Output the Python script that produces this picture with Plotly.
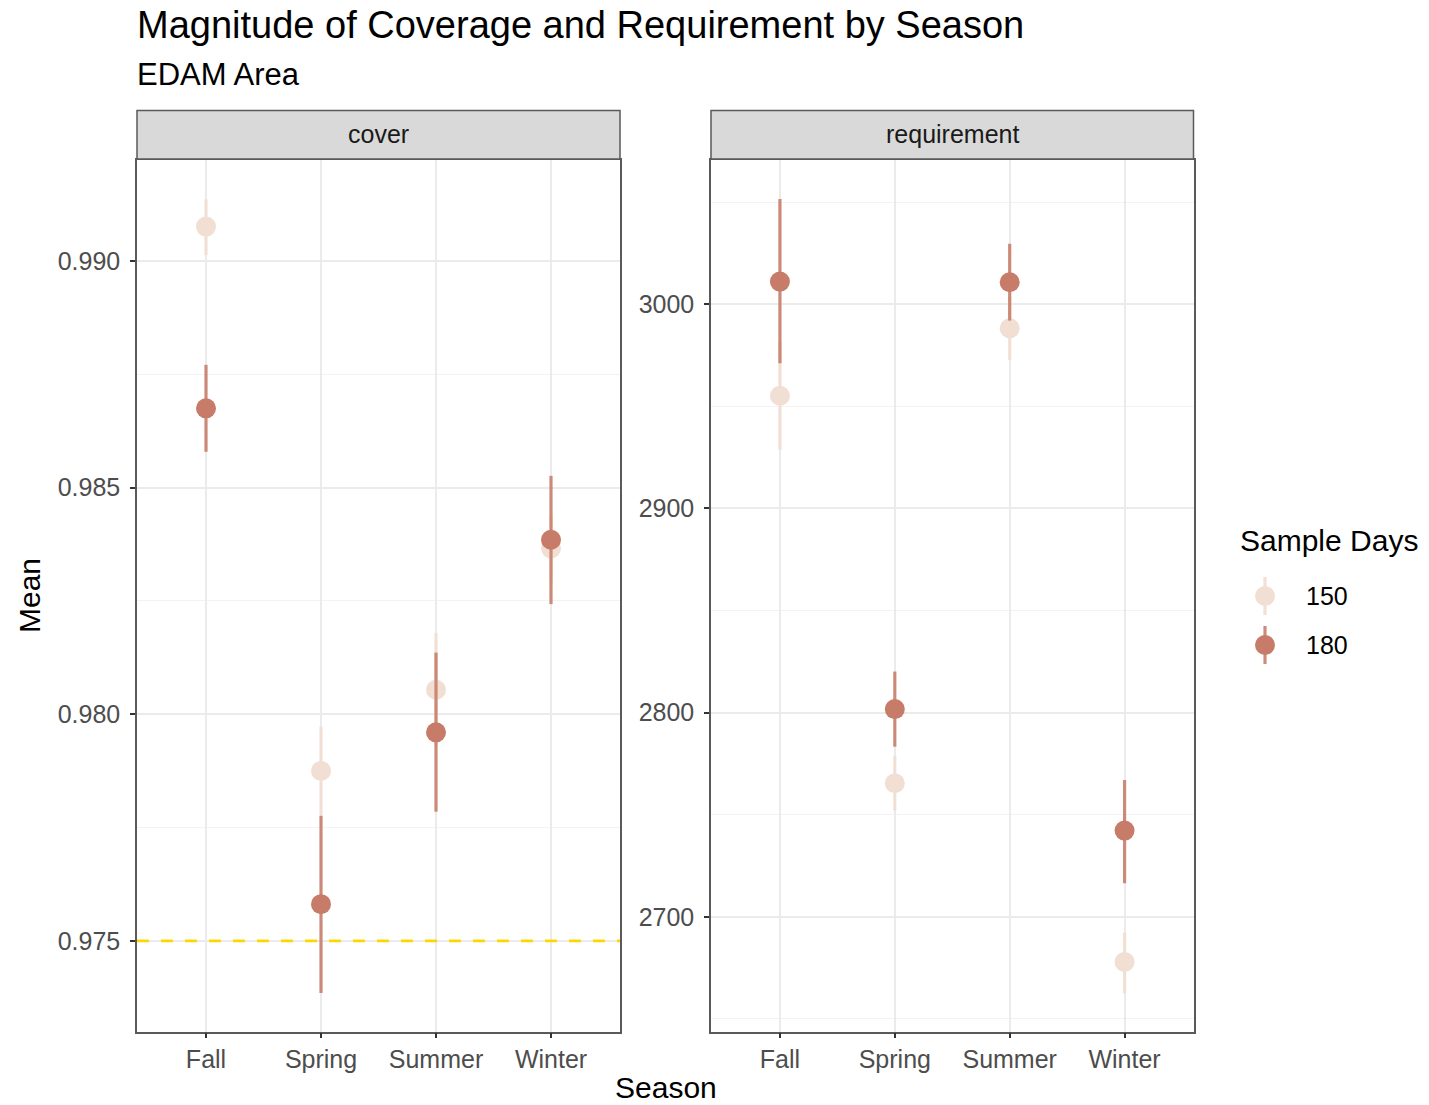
import plotly.graph_objects as go

W, H = 1429, 1105

seasons = ["Fall", "Spring", "Summer", "Winter"]
sample_days = ["150", "180"]

cover_150_mean = [0.99076, 0.97875, 0.98054, 0.98366]
cover_150_lo = [0.99013, 0.97777, 0.97929, 0.98290]
cover_150_hi = [0.99136, 0.97973, 0.98179, 0.98440]
cover_180_mean = [0.98675, 0.97581, 0.97960, 0.98385]
cover_180_lo = [0.98579, 0.97385, 0.97785, 0.98243]
cover_180_hi = [0.98771, 0.97776, 0.98136, 0.98526]

req_150_mean = [2955.2, 2765.4, 2988.2, 2677.9]
req_150_lo = [2928.6, 2752.0, 2972.7, 2662.5]
req_150_hi = [2981.8, 2778.8, 3003.7, 2692.3]
req_180_mean = [3011.1, 2801.7, 3010.8, 2742.2]
req_180_lo = [2971.1, 2783.3, 2992.0, 2716.4]
req_180_hi = [3051.5, 2820.1, 3029.6, 2767.0]

cover_threshold = 0.975
facet_labels = ["cover", "requirement"]

FONT = "Liberation Sans"
col_pt = {"150": "#F2DFD3", "180": "#C67C68"}
col_bar = {"150": "rgba(242,222,210,0.9)", "180": "rgba(198,124,104,0.88)"}


def px(x):
    return x / W


def py(y):
    return 1 - y / H


# panel pixel boxes
L1, R1 = 137, 620
L2, R2 = 711, 1193.5
TOP, BOT = 159.5, 1031.5

fig = go.Figure()

series = [
    ("150", "x", "y", cover_150_mean, cover_150_lo, cover_150_hi),
    ("180", "x", "y", cover_180_mean, cover_180_lo, cover_180_hi),
    ("150", "x2", "y2", req_150_mean, req_150_lo, req_150_hi),
    ("180", "x2", "y2", req_180_mean, req_180_lo, req_180_hi),
]
for sd, xa, ya, m, lo, hi in series:
    fig.add_trace(go.Scatter(
        x=seasons, y=m, xaxis=xa, yaxis=ya, mode="markers",
        marker=dict(size=20, color=col_pt[sd], line=dict(width=0)),
        error_y=dict(type="data", symmetric=False,
                     array=[h - v for h, v in zip(hi, m)],
                     arrayminus=[v - l for v, l in zip(m, lo)],
                     color=col_bar[sd], thickness=3.2, width=0),
        showlegend=False, name=sd, cliponaxis=False,
    ))

axis_common = dict(
    showline=True, mirror=True, linecolor="#5A5A5A", linewidth=1.5,
    ticks="outside", ticklen=5, tickwidth=1.5, tickcolor="#333333",
    tickfont=dict(family=FONT, size=25, color="#4D4D4D"),
    showgrid=True, gridcolor="#EBEBEB", gridwidth=1.5, zeroline=False,
)

xcommon = dict(axis_common, type="category", categoryorder="array",
               categoryarray=seasons, range=[-0.6, 3.6])

fig.update_layout(
    width=W, height=H, margin=dict(l=0, r=0, t=0, b=0),
    paper_bgcolor="white", plot_bgcolor="white",
    xaxis=dict(xcommon, domain=[px(L1), px(R1)], anchor="y"),
    xaxis2=dict(xcommon, domain=[px(L2), px(R2)], anchor="y2"),
    yaxis=dict(axis_common, domain=[py(BOT), py(TOP)], anchor="x",
               range=[0.97300, 0.99224], tickvals=[0.975, 0.980, 0.985, 0.990],
               tickformat=".3f", ticklabelstandoff=5,
               minor=dict(tickvals=[0.9725, 0.9775, 0.9825, 0.9875], showgrid=True,
                          gridcolor="#F3F3F3", gridwidth=1, ticks="")),
    yaxis2=dict(axis_common, domain=[py(BOT), py(TOP)], anchor="x2",
                range=[2643.8, 3070.9], tickvals=[2700, 2800, 2900, 3000],
                tickformat="d", ticklabelstandoff=5,
                minor=dict(tickvals=[2650, 2750, 2850, 2950, 3050], showgrid=True,
                           gridcolor="#F3F3F3", gridwidth=1, ticks="")),
    showlegend=False,
)

shapes = []
# threshold line in cover panel
shapes.append(dict(type="line", xref="x domain", yref="y", x0=0, x1=1,
                   y0=cover_threshold, y1=cover_threshold,
                   line=dict(color="#FFD700", width=2.8, dash="12px,12px"), layer="above"))
# strips
for (l, r) in [(L1, R1), (L2, R2)]:
    shapes.append(dict(type="rect", xref="paper", yref="paper",
                       x0=px(l), x1=px(r), y0=py(159), y1=py(110.5),
                       fillcolor="#D9D9D9", line=dict(color="#5A5A5A", width=1.5)))

annotations = []
for (l, r), lab in zip([(L1, R1), (L2, R2)], facet_labels):
    annotations.append(dict(text=lab, x=px((l + r) / 2), y=py(134), xref="paper", yref="paper",
                            xanchor="center", yanchor="middle", showarrow=False,
                            font=dict(family=FONT, size=25, color="#1A1A1A")))

annotations += [
    dict(text="Magnitude of Coverage and Requirement by Season", x=px(135), y=py(25),
         xref="paper", yref="paper", xanchor="left", yanchor="middle", showarrow=False,
         font=dict(family=FONT, size=38, color="black")),
    dict(text="EDAM Area", x=px(135), y=py(75), xref="paper", yref="paper",
         xanchor="left", yanchor="middle", showarrow=False,
         font=dict(family=FONT, size=31, color="black")),
    dict(text="Mean", x=px(29), y=py(596), xref="paper", yref="paper",
         xanchor="center", yanchor="middle", showarrow=False, textangle=-90,
         font=dict(family=FONT, size=30, color="black")),
    dict(text="Season", x=px(666), y=0, xref="paper", yref="paper",
         xanchor="center", yanchor="bottom", showarrow=False, borderpad=0,
         font=dict(family=FONT, size=30, color="black")),
    dict(text="Sample Days", x=px(1238), y=py(540), xref="paper", yref="paper",
         xanchor="left", yanchor="middle", showarrow=False,
         font=dict(family=FONT, size=30, color="black")),
]

# legend glyphs
for sd, yc in zip(sample_days, [596, 645]):
    shapes.append(dict(type="line", xref="paper", yref="paper",
                       x0=px(1265), x1=px(1265), y0=py(yc - 19), y1=py(yc + 19),
                       line=dict(color=col_bar[sd], width=3.2)))
    shapes.append(dict(type="circle", xref="paper", yref="paper",
                       x0=px(1255), x1=px(1275), y0=py(yc - 10), y1=py(yc + 10),
                       fillcolor=col_pt[sd], line=dict(width=0)))
    annotations.append(dict(text=sd, x=px(1304), y=py(yc), xref="paper", yref="paper",
                            xanchor="left", yanchor="middle", showarrow=False,
                            font=dict(family=FONT, size=25, color="black")))

fig.update_layout(shapes=shapes, annotations=annotations)
fig.write_html("out.html")
